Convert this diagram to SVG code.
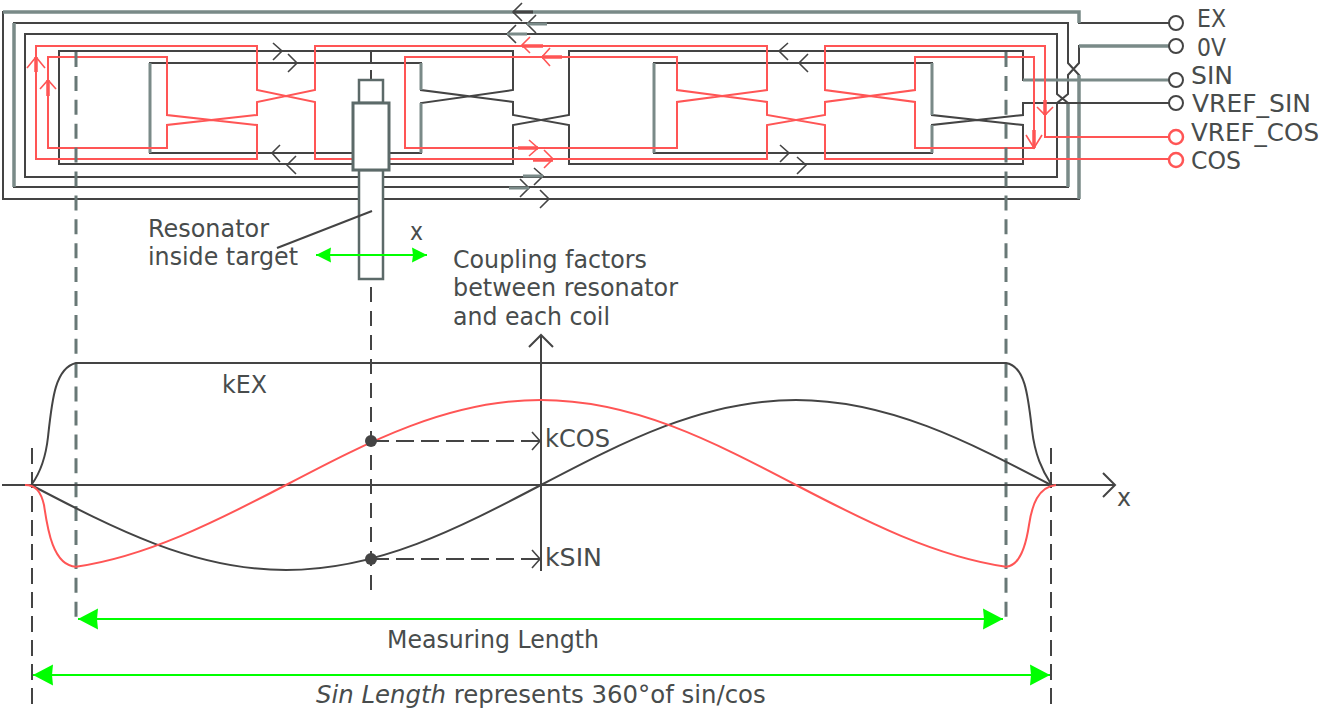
<svg xmlns="http://www.w3.org/2000/svg" width="1320" height="712" viewBox="0 0 1320 712">
<style>
text{font-family:"DejaVu Sans","Liberation Sans",sans-serif;font-size:24px;fill:#484c4c}
.k{fill:none;stroke:#444;stroke-width:2}
.g{fill:none;stroke:#7a8a88;stroke-width:3}
.r{fill:none;stroke:#ff5555;stroke-width:2}
.d{fill:none;stroke:#444;stroke-width:2}
.dg{fill:none;stroke:#687876;stroke-width:3}
.ch{fill:none;stroke:#444;stroke-width:1.6}
.chr{fill:none;stroke:#ff5555;stroke-width:1.6}
.gn{fill:none;stroke:#00ff00;stroke-width:2}
.tg{fill:#fff;stroke:#5c6a69;stroke-width:2.5}
.tm{fill:#fff;stroke:#444;stroke-width:2}
.tr{fill:#fff;stroke:#ff5555;stroke-width:2.5}
</style>
<defs>
<marker id="ga" markerUnits="userSpaceOnUse" markerWidth="22" markerHeight="24" refX="20" refY="12" orient="auto-start-reverse" viewBox="0 0 22 24"><path d="M0 1.500L20 12L0 22.500L1 12Z" fill="#00ff00"/></marker>
<marker id="gs" markerUnits="userSpaceOnUse" markerWidth="18" markerHeight="18" refX="16" refY="9" orient="auto-start-reverse" viewBox="0 0 18 18"><path d="M1 1.500L16 9L1 16.500L2 9Z" fill="#00ff00"/></marker>
</defs>
<g id="connectors">
<g id="coil-ex">
<path class="k" d="M1176 23H1079V12H3V199H1079V75L1068 63V23H14V187H1068V103L1057 94V34H25V177H1057V103L1068 94V75L1079 63V46H1176"/>
<path class="g" style="stroke-width:3.500" d="M1079 23V12H3M14 23V187M1079 199V75M1079 46H1176M1068 187V103"/>
</g>
<g id="coil-sin">
<path class="k" d="M1176 80H1023V51H569V115L513 125V164H59V51H513V90L421 103V153H150V63H421V90L513 102V115L569 125V164H1023V125L932 115V63H654V153H932V125L1023 115V103H1176"/>
<path class="g" d="M150 63V153M421 63V90M421 103V153M654 63V153M932 63V115M932 125V153M1023 80H1176"/>
</g>
<g id="coil-cos">
<path class="r" d="M1176 137H1045V46H825V90L915 102V148H1034V57H915V90L825 102V115L767 125V159H315V102L257 90V46H36V159H257V125L167 115V57H48V148H167V125L257 115V102L315 90V46H767V90L677 102V148H405V57H677V90L767 102V115L825 125V159H1176"/>
</g>
<g id="coil-arrows">
<path class="ch" d="M273 43L282 51L273 60M288 54L297 63L288 72M280 145L272 153L280 162M296 156L287 165L296 174M522 3L513 12L522 21M536 15L527 24L536 33M516 25L507 34L516 43M534 168L543 176L534 185M520 179L529 188L520 197M540 190L549 199L540 208M788 43L779 51L788 60M808 54L799 63L808 72M780 145L789 153L780 162M797 157L806 165L797 174"/>
<path class="k" style="stroke-width:3" d="M513 12H533"/>
<path class="g" d="M527 24H547M507 34H527M523 176H543M509 188H529"/>
<path class="chr" d="M530 37L522 45L530 53M550 48L542 57L550 66M529 140L538 148L529 156M544 150L553 159L544 168M27 68L36 57L45 68M40 89L48 80L56 89M1037 107L1045 115L1053 107M1026 135L1034 148L1042 135"/>
<path class="r" style="stroke-width:3.500" d="M522 46H543M542 57H562M518 148H538M533 160H553M36 57V72M48 80V96M1045 100V115M1034 130V148"/>
</g>
<g id="guides">
<path class="dg" stroke-dasharray="15 8.900" d="M76 52V620M1006 52V620"/>
<path class="d" stroke-dasharray="16 8" d="M32 448V705M1051 448V705"/>
<path class="d" d="M371 52V62M371 70V80"/>
<path class="d" stroke-dasharray="15 9" d="M371 287V590"/>
</g>
</g>
<g id="terminals">
<g id="t-ex"><circle class="tm" cx="1176" cy="23" r="7"/><text x="1197" y="27" textLength="29" lengthAdjust="spacingAndGlyphs">EX</text></g>
<g id="t-0v"><circle class="tm" cx="1176" cy="46" r="7"/><text x="1197" y="56" textLength="29" lengthAdjust="spacingAndGlyphs">0V</text></g>
<g id="t-sin"><circle class="tm" cx="1176" cy="80" r="7"/><text x="1191" y="84" textLength="42" lengthAdjust="spacingAndGlyphs">SIN</text></g>
<g id="t-vref-sin"><circle class="tm" cx="1176" cy="103" r="7"/><text x="1192" y="112" textLength="119" lengthAdjust="spacingAndGlyphs">VREF_SIN</text></g>
<g id="t-vref-cos"><circle class="tr" cx="1176" cy="137" r="7"/><text x="1191" y="141" textLength="128" lengthAdjust="spacingAndGlyphs">VREF_COS</text></g>
<g id="t-cos"><circle class="tr" cx="1176" cy="160" r="7"/><text x="1191" y="169" textLength="50" lengthAdjust="spacingAndGlyphs">COS</text></g>
</g>
<g id="target">
<rect class="tg" x="359" y="80" width="24" height="23"/>
<rect class="tg" x="359" y="170" width="24" height="109"/>
<rect class="tg" style="stroke-width:3" x="353" y="103" width="36" height="67"/>
<path class="k" d="M372 211L277 248"/>
<text x="148" y="237" textLength="121" lengthAdjust="spacingAndGlyphs">Resonator</text>
<text x="148" y="265" textLength="150" lengthAdjust="spacingAndGlyphs">inside target</text>
<path class="gn" marker-start="url(#gs)" marker-end="url(#gs)" d="M316 255H427"/>
<text x="410" y="240" textLength="13" lengthAdjust="spacingAndGlyphs">x</text>
</g>
<g id="chart">
<path class="k" d="M2 485H1115M1103 473L1115 485L1103 497"/>
<path class="k" d="M541 571V335M529 347L541 335L553 347"/>
<path class="k" d="M32 484C42 470 46 455 48 437C52 400 55 368 76 363H1006C1025 366 1028 395 1032 430C1035 455 1042 470 1051 484"/>
<path class="k" d="M31 485C114.200 528.500 193.700 570 286 570C378.300 570 457.800 528.500 541 485C624.200 441.500 703.700 400 796 400C888.300 400 967.800 441.500 1051 485"/>
<path class="r" d="M25 485C36 485 41 492 44 505C47 525 52 566 76 566.700C146 556.700 216 521.600 286 485C369.200 441.500 448.700 400 541 400C633.300 400 712.800 441.500 796 485C866 521.600 936 556.700 1006 566.700C1020 566 1026 545 1029 525C1032 505 1038 487 1056 485"/>
<circle cx="371" cy="441" r="6" fill="#444"/>
<circle cx="371" cy="559" r="6" fill="#444"/>
<path class="d" stroke-dasharray="18 7" d="M371 441H540M371 559H540"/>
<path class="ch" d="M532 432L540 441L532 450M532 550L540 559L532 568"/>
<text x="453" y="268" textLength="194" lengthAdjust="spacingAndGlyphs">Coupling factors</text>
<text x="453" y="296" textLength="225" lengthAdjust="spacingAndGlyphs">between resonator</text>
<text x="453" y="325" textLength="157" lengthAdjust="spacingAndGlyphs">and each coil</text>
<text x="222" y="393" textLength="45" lengthAdjust="spacingAndGlyphs">kEX</text>
<text x="545" y="447" textLength="65" lengthAdjust="spacingAndGlyphs">kCOS</text>
<text x="545" y="566" textLength="57" lengthAdjust="spacingAndGlyphs">kSIN</text>
<text x="1117" y="506" textLength="14" lengthAdjust="spacingAndGlyphs">x</text>
</g>
<g id="dimensions">
<path class="gn" marker-start="url(#ga)" marker-end="url(#ga)" d="M78 619H1003"/>
<path class="gn" marker-start="url(#ga)" marker-end="url(#ga)" d="M33 675H1050"/>
<text x="387" y="648" textLength="212" lengthAdjust="spacingAndGlyphs">Measuring Length</text>
<text x="316" y="703" style="font-size:24.400px"><tspan font-style="italic">Sin Length</tspan> represents 360°of sin/cos</text>
</g>
</svg>
